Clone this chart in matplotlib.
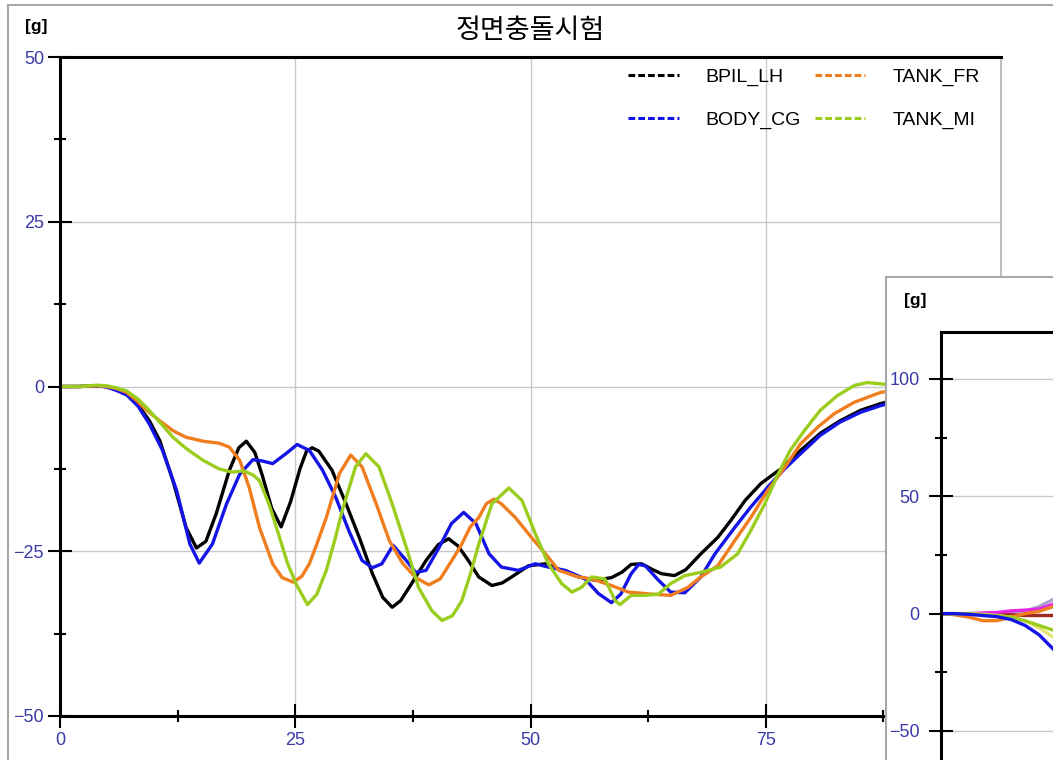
import matplotlib
matplotlib.use("Agg")
import matplotlib.pyplot as plt
from matplotlib.lines import Line2D
from matplotlib.patches import Rectangle
from matplotlib.ticker import MultipleLocator

plt.rcParams['font.family'] = ['Liberation Sans', 'Noto Sans CJK KR', 'DejaVu Sans']

# ---------------- data (main chart) ----------------
title = "정면충돌시험"
unit_label = "[g]"
series_names = ["BPIL_LH", "BODY_CG", "TANK_FR", "TANK_MI"]
series_colors = ["#000000", "#1414e6", "#f07d1e", "#9acd1e"]

bpil_x = [0, 2, 4, 5, 6, 7.1, 8.3, 9.5, 10.6, 12, 13.4, 14.5, 15.5, 16.6, 18, 19, 19.8,
          20.7, 21.5, 22.5, 23.5, 24.5, 25.5, 26.2, 26.8, 27.5, 28.9, 30.4, 31.8, 33.2,
          34.3, 35.3, 36.2, 37.1, 38.9, 40.2, 41.3, 42.3, 43.3, 44.5, 45.9, 47, 48, 49.8,
          51.6, 53.3, 55.1, 56.9, 58.6, 59.7, 60.7, 61.8, 63, 63.9, 65.3, 66.5, 68.1,
          69.9, 71.3, 72.8, 74.5, 76.6, 78.7, 80.8, 82.9, 85.1, 87.2, 90]
bpil_y = [0, 0, 0.1, 0, -0.4, -1.1, -2.8, -5.2, -8.2, -14.3, -21.4, -24.5, -23.5, -19.3,
          -12.7, -9.3, -8.3, -10, -13.5, -18.5, -21.3, -17.5, -12.5, -9.8, -9.3, -9.8,
          -12.7, -17.8, -22.9, -28.4, -32, -33.5, -32.5, -30.5, -26.4, -24, -23.1, -24.2,
          -26.2, -28.9, -30.2, -29.8, -28.9, -27.2, -26.9, -27.9, -28.9, -29.4, -29,
          -28.2, -27, -26.9, -27.8, -28.4, -28.7, -27.8, -25.4, -22.9, -20.3, -17.3,
          -14.7, -12.5, -9.7, -7.1, -5.2, -3.6, -2.6, -1.6]

body_x = [0, 2, 4, 5, 6, 7.1, 8.3, 9.5, 10.9, 12.4, 13.8, 14.8, 16.2, 17.7, 19.1, 20.5,
          21.5, 22.6, 24, 25.2, 26.5, 27.9, 29.3, 30.7, 32.1, 33.2, 34.2, 35.4, 36.8,
          37.8, 38.9, 40.3, 41.6, 42.9, 44.2, 45.6, 46.9, 48.7, 50.5, 51.9, 53.7, 55.8,
          57.2, 58.6, 59.6, 60.7, 61.5, 62.2, 63.6, 64.9, 66.4, 68.1, 69.6, 71.7, 73.4,
          75.2, 77, 78.7, 80.8, 82.9, 85.1, 87.2, 90]
body_y = [0, 0, 0.1, -0.1, -0.6, -1.3, -3, -5.7, -9.7, -15.8, -23.9, -26.8, -23.9, -17.8,
          -13.3, -11.1, -11.3, -11.7, -10.2, -8.8, -9.7, -12.7, -16.8, -21.9, -26.4,
          -27.5, -26.9, -24.1, -26.4, -28.2, -27.9, -24.4, -20.8, -19.1, -20.8, -25.4,
          -27.4, -27.9, -26.9, -27.4, -27.9, -29.2, -31.4, -32.8, -31.5, -28.4, -27,
          -27.2, -29.4, -31.2, -31.3, -28.9, -25.4, -21.4, -18.3, -15.3, -12.5, -10.2,
          -7.4, -5.4, -3.9, -2.9, -1.9]

tankfr_x = [0, 2, 4, 5, 6, 7.1, 8.2, 9.2, 10.6, 12, 13.4, 15.2, 16.9, 18, 19.1, 20.1,
            21.2, 22.6, 23.6, 24.8, 25.7, 26.5, 27.4, 28.3, 29.7, 30.9, 32.1, 33.6, 35,
            36.4, 37.8, 39.2, 40.4, 41.6, 42.7, 43.6, 44.5, 45.3, 46.1, 46.9, 48.4, 50.1,
            51.6, 53, 55.1, 56.5, 58.6, 60.4, 62.8, 64.9, 66.7, 68.1, 69.9, 71.7, 73.4,
            75.2, 77, 78.7, 80.5, 82.3, 84.4, 87.2, 90]
tankfr_y = [0, 0, 0.1, 0, -0.3, -0.9, -2.2, -3.6, -5.2, -6.7, -7.7, -8.3, -8.6, -9.2,
            -11.2, -15.3, -21.4, -26.9, -29, -29.7, -28.8, -26.9, -23.5, -19.9, -13.2,
            -10.4, -12.2, -17.8, -23.4, -26.8, -29, -30.1, -29.2, -26.5, -23.9, -21.3,
            -19.9, -17.8, -17.1, -17.8, -19.9, -22.9, -25.4, -27.9, -28.9, -29.2, -30.2,
            -31.2, -31.5, -31.7, -30.5, -28.9, -27.2, -23.4, -19.9, -15.8, -12.3, -8.7,
            -6.2, -4.1, -2.4, -0.9, -0.3]

tankmi_x = [0, 2, 4, 5, 6, 7.1, 8.2, 9.2, 10.6, 12, 13.4, 15.2, 16.9, 18.3, 19.5, 20.5,
            21.2, 22.2, 23.2, 24.2, 25.1, 26.3, 27.3, 28.3, 29.2, 30, 31.4, 32.5, 33.9,
            35.3, 36.8, 38.1, 39.5, 40.6, 41.7, 42.7, 43.6, 44.5, 45.9, 47.7, 49.1, 50.5,
            51.9, 53.3, 54.4, 55.4, 56.5, 57.9, 59, 59.5, 60.7, 62.2, 63.6, 64.9, 66.4,
            68.1, 70.2, 72, 73.4, 74.9, 76.3, 77.6, 79.1, 80.8, 82.6, 84.4, 85.8, 87.2, 90]
tankmi_y = [0, 0, 0.2, 0.1, -0.2, -0.7, -1.8, -3.2, -5.4, -7.7, -9.4, -11.2, -12.5, -13,
            -12.8, -13.4, -14.3, -17.8, -22.3, -26.9, -30, -33.1, -31.5, -27.9, -23.3,
            -18.8, -12.2, -10.2, -12.2, -17.8, -24.4, -30.5, -34, -35.5, -34.8, -32.5,
            -28.5, -23.9, -17.8, -15.4, -17.3, -22.3, -26.9, -29.9, -31.2, -30.5, -28.9,
            -29.2, -32.5, -33.1, -31.7, -31.7, -31.5, -29.9, -28.7, -28.2, -27.4, -25.4,
            -21.9, -17.8, -13.3, -9.7, -6.7, -3.6, -1.4, 0.15, 0.6, 0.4, 0]

x_ticks = [0, 25, 50, 75, 100]
y_ticks = [-50, -25, 0, 25, 50]

# ---------------- data (inset chart, partly visible) ----------------
inset_x = [0, 2, 4, 6, 8, 10, 12, 14, 16, 18]
inset_blue = [0, 0, -0.3, -0.8, -1.3, -2.5, -5, -9, -15, -22]
inset_green = [0, 0, 0, -0.5, -1, -1.5, -3, -5, -7, -9]
inset_yellow = [0, 0, 0, -0.3, -0.8, -1.5, -3, -6, -10, -14]
inset_orange = [0, -0.5, -1.5, -3, -3, -1.5, 0, 1, 3, 6]
inset_magenta = [0, 0, 0, 0.3, 0.5, 1.2, 1.5, 2, 4, 8]
inset_brown = [0, 0, 0, 0, -0.3, -0.5, -0.8, -0.8, -0.8, -0.8]
inset_gray = [0, 0, 0, 0, 0.2, 0.5, 1, 3, 6, 10]
inset_series = [inset_gray, inset_brown, inset_magenta, inset_orange, inset_yellow,
                inset_green, inset_blue]
inset_colors = ["#a8a0c8", "#a0281e", "#e628e6", "#f07d1e", "#e6e66e", "#9acd1e", "#1414e6"]
inset_y_ticks = [-50, 0, 50, 100]

# ---------------- figure ----------------
W, H = 1053, 760
fig = plt.figure(figsize=(W / 100, H / 100), dpi=100)
fig.patch.set_facecolor("white")

# outer panel border
fig.add_artist(Rectangle((8 / W, -0.5), 2, 1.5 - 5 / H, transform=fig.transFigure,
                         fill=False, edgecolor="#a8a8a8", lw=1.5))

tick_color = "#3a3aa8"

ax = fig.add_axes([60 / W, 1 - 716 / H, (1001 - 60) / W, (716 - 57) / H])
ax.set_xlim(0, 100)
ax.set_ylim(-50, 50)
ax.set_xticks(x_ticks)
ax.set_yticks(y_ticks)
ax.xaxis.set_minor_locator(MultipleLocator(12.5))
ax.yaxis.set_minor_locator(MultipleLocator(12.5))
ax.grid(True, which="major", color="#c8c8c8", lw=1)
ax.tick_params(which="major", direction="inout", length=17, width=1.5,
               labelsize=13, labelcolor=tick_color, pad=3)
ax.tick_params(which="minor", direction="inout", length=9, width=1.5)
for s in ["left", "bottom", "top"]:
    ax.spines[s].set_linewidth(2.2)
    ax.spines[s].set_color("black")
ax.spines["right"].set_color("#b4b4b4")
ax.spines["right"].set_linewidth(1.2)

xs = [bpil_x, body_x, tankfr_x, tankmi_x]
ys = [bpil_y, body_y, tankfr_y, tankmi_y]
for x, y, c in zip(xs, ys, series_colors):
    ax.plot(x, y, color=c, lw=2.4, solid_joinstyle="round", solid_capstyle="round")

handles = [Line2D([], [], color=c, lw=2.2, linestyle=(0, (2.2, 1.0))) for c in series_colors]
leg = fig.legend(handles, series_names, ncol=2, loc="upper left",
                 bbox_to_anchor=(628 / W, 1 - 68 / H), frameon=False, fontsize=14,
                 handlelength=2.6, handletextpad=1.4, columnspacing=0.7,
                 labelspacing=1.3, borderpad=0, borderaxespad=0)

fig.text(530 / W, 1 - 31 / H, title, ha="center", va="center", fontsize=19.5,
         weight="medium", family=["Noto Sans CJK KR", "DejaVu Sans"])
fig.text(36 / W, 1 - 27 / H, unit_label, ha="center", va="center", fontsize=12.5,
         weight="bold")

# ---------------- inset panel ----------------
panel = fig.add_axes([886 / W, -0.3, 0.5, 1 - 277 / H + 0.3])
panel.set_zorder(5)
panel.set_facecolor("white")
panel.set_xticks([])
panel.set_yticks([])
for s in panel.spines.values():
    s.set_color("#a8a8a8")
    s.set_linewidth(1.5)

ins_top = 1 - 332 / H
ins_h = 220 * 2.347 / H
ins = fig.add_axes([941 / W, ins_top - ins_h, 0.665, ins_h])
ins.set_zorder(6)
ins.patch.set_alpha(0)
ins.set_xlim(0, 100)
ins.set_ylim(-100, 120)
ins.set_yticks(inset_y_ticks)
ins.yaxis.set_minor_locator(MultipleLocator(25))
ins.set_xticks([])
ins.grid(True, axis="y", which="major", color="#c8c8c8", lw=1)
ins.tick_params(which="major", direction="inout", length=17, width=1.5,
                labelsize=13, labelcolor=tick_color, pad=7)
ins.tick_params(which="minor", direction="inout", length=9, width=1.5)
for s in ["left", "top"]:
    ins.spines[s].set_linewidth(2.2)
for s in ["right", "bottom"]:
    ins.spines[s].set_visible(False)
for yv, c in zip(inset_series, inset_colors):
    ins.plot(inset_x, yv, color=c, lw=2.4)

t = fig.text(915 / W, 1 - 300 / H, unit_label, ha="center", va="center", fontsize=12.5,
             weight="bold")
t.set_zorder(7)

fig.savefig("out.png", dpi=100, facecolor="white")
